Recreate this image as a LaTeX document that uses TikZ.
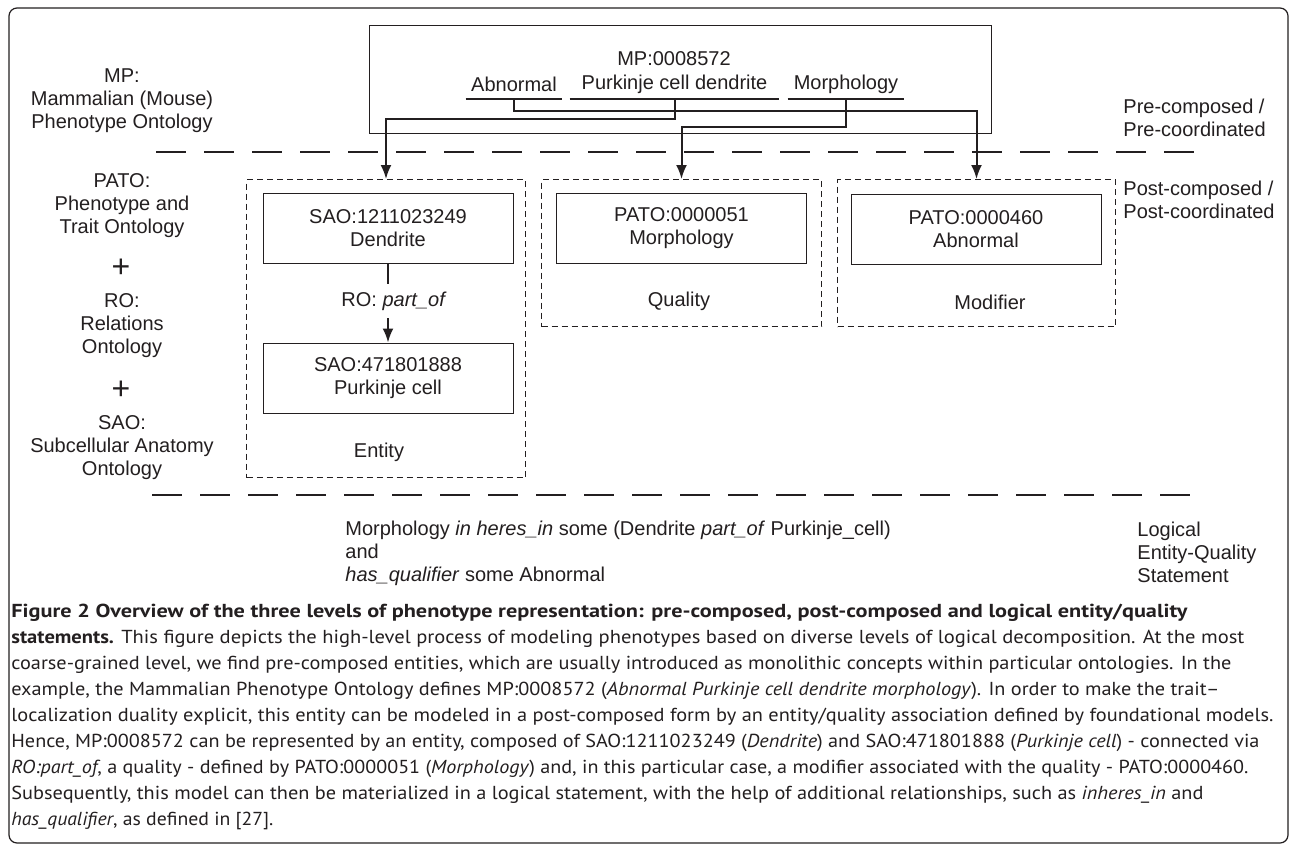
\documentclass[tikz,border=0pt]{standalone}
\usepackage{fontspec}
\usepackage{graphicx}
\setmainfont{Liberation Sans}
\newfontfamily\capfont{PT Sans}
\usetikzlibrary{arrows.meta}
\definecolor{ink}{HTML}{231F20}
\newcommand{\myCapLine}[2]{\resizebox{#1}{\height}{#2}}
\begin{document}
\begin{tikzpicture}[x=0.5pt,y=-0.5pt,
  txt/.style={font=\fontsize{10}{11.5}\selectfont, align=center, text=ink, inner sep=0pt},
  plus/.style={font=\fontsize{16}{16}\selectfont, text=ink, inner sep=0pt},
  solidbox/.style={draw=ink, line width=0.5pt, minimum width=125pt, minimum height=35pt, align=center, text=ink, inner sep=0pt, font=\fontsize{10}{11.5}\selectfont},
  dashbox/.style={draw=ink, line width=0.5pt, dash pattern=on 3pt off 2pt, inner sep=0pt, anchor=north west},
  term/.style={txt, minimum height=15pt},
  conn/.style={draw=ink, line width=1pt, -{Latex[length=7pt,width=5.5pt]}},
  plainline/.style={draw=ink, line width=1pt},
  sepline/.style={draw=ink, line width=0.6pt, dash pattern=on 15pt off 9pt},
  captext/.style={font=\capfont\fontsize{9.4}{11}\selectfont, text=ink, inner sep=0pt, anchor=west}
]
\useasboundingbox (0,0) rectangle (1290,846);
\fill[white] (0,0) rectangle (1290,846);
% outer frame
\draw[ink, line width=0.6pt, rounded corners=4pt] (9,8) rectangle (1288,843);

% MP box
\node[draw=ink, line width=0.5pt, minimum width=311pt, minimum height=54pt, anchor=north west, inner sep=0pt] (mpbox) at (369,25) {};
\node[txt] (mpid) at (674,59) {MP:0008572};
\node[term, minimum width=48pt] (tabn) at (514,84) {Abnormal};
\node[term, minimum width=104.5pt] (tpcd) at (674.5,84) {Purkinje cell dendrite};
\node[term, minimum width=58pt] (tmor) at (846,84) {Morphology};
\draw[plainline] (tabn.south west) -- (tabn.south east);
\draw[plainline] (tpcd.south west) -- (tpcd.south east);
\draw[plainline] (tmor.south west) -- (tmor.south east);

% separators
\coordinate (s1a) at (156,152);
\coordinate (s1b) at (1210,152);
\coordinate (s2a) at (152,495);
\coordinate (s2b) at (1207,495);
\draw[sepline] (s1a) -- (s1b);
\draw[sepline] (s2a) -- (s2b);

% dashed groups
\node[dashbox, minimum width=139.5pt, minimum height=149pt] (entbox) at (246,179) {};
\node[dashbox, minimum width=140pt, minimum height=73.5pt] (qualbox) at (541,179) {};
\node[dashbox, minimum width=139pt, minimum height=73.5pt] (modbox) at (837,179) {};

% inner boxes
\node[solidbox] (den) at (388,228.5) {SAO:1211023249\\Dendrite};
\node[solidbox] (morb) at (681.5,228) {PATO:0000051\\Morphology};
\node[solidbox] (abnb) at (976,229) {PATO:0000460\\Abnormal};
\node[solidbox] (pur) at (388,378) {SAO:471801888\\Purkinje cell};

\node[txt, minimum height=17pt] (rol) at (394,301) {RO: \textit{part\_of}};
\draw[plainline] (den.south) -- (den.south |- rol.north);
\draw[conn] (den.south |- rol.south) -- (pur.north);

\node[txt] (entl) at (379,452) {Entity};
\node[txt] (quall) at (679,301) {Quality};
\node[txt] (modl) at (990,302) {Modifier};

% connectors from MP terms
\draw[conn] (tabn.south) -- ++(0,12) -| (modbox.north);
\draw[conn] (tpcd.south) -- ++(0,20) -| (entbox.north);
\draw[conn] (tmor.south) -- ++(0,28) -| (qualbox.north);

% left column
\node[txt] (mp) at (122,101) {MP:\\Mammalian (Mouse)\\Phenotype Ontology};
\node[txt] (pato) at (122,206) {PATO:\\Phenotype and\\Trait Ontology};
\node[plus] (p1) at (121,268) {+};
\node[txt] (ro) at (122,326) {RO:\\Relations\\Ontology};
\node[plus] (p2) at (121,390) {+};
\node[txt] (sao) at (122,448) {SAO:\\Subcellular Anatomy\\Ontology};

% right column
\node[txt, align=left, anchor=west] (pre) at (1123,118) {Pre-composed /\\Pre-coordinated};
\node[txt, align=left, anchor=west] (post) at (1123,200) {Post-composed /\\Post-coordinated};
\node[txt, align=left, anchor=west] (leq) at (1137,552) {Logical\\Entity-Quality\\Statement};

% logical statement
\node[txt, align=left, anchor=west] (stmt) at (345,553) {Morphology \textit{in heres\_in} some (Dendrite \textit{part\_of} Purkinje\_cell)\\and\\\textit{has\_qualifier} some Abnormal};

% caption
\node[captext] (c1) at (11,613) {\myCapLine{588pt}{\bfseries Figure 2 Overview of the three levels of phenotype representation: pre-composed, post-composed and logical entity/quality}};
\node[captext] (c2) at (11,639) {\myCapLine{616.5pt}{\textbf{statements.} This figure depicts the high-level process of modeling phenotypes based on diverse levels of logical decomposition. At the most}};
\node[captext] (c3) at (11,665) {\myCapLine{610pt}{coarse-grained level, we find pre-composed entities, which are usually introduced as monolithic concepts within particular ontologies. In the}};
\node[captext] (c4) at (11,691) {\myCapLine{604pt}{example, the Mammalian Phenotype Ontology defines MP:0008572 (\textit{Abnormal Purkinje cell dendrite morphology}). In order to make the trait–}};
\node[captext] (c5) at (11,717) {\myCapLine{631pt}{localization duality explicit, this entity can be modeled in a post-composed form by an entity/quality association defined by foundational models.}};
\node[captext] (c6) at (11,743) {\myCapLine{624pt}{Hence, MP:0008572 can be represented by an entity, composed of SAO:1211023249 (\textit{Dendrite}) and SAO:471801888 (\textit{Purkinje cell}) - connected via}};
\node[captext] (c7) at (11,769) {\myCapLine{618.5pt}{\textit{RO:part\_of}, a quality - defined by PATO:0000051 (\textit{Morphology}) and, in this particular case, a modifier associated with the quality - PATO:0000460.}};
\node[captext] (c8) at (11,795) {\myCapLine{596pt}{Subsequently, this model can then be materialized in a logical statement, with the help of additional relationships, such as \textit{inheres\_in} and}};
\node[captext] (c9) at (11,821) {\scalebox{1.05}[1]{\textit{has\_qualifier}, as defined in [27].}};
\end{tikzpicture}
\end{document}
